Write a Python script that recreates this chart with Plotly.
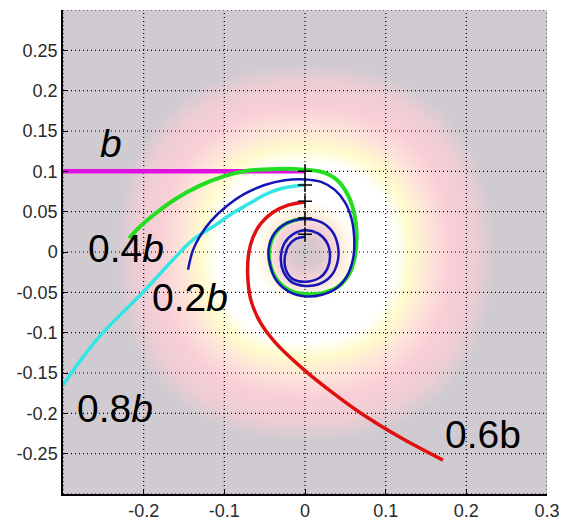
import numpy as np
import plotly.graph_objects as go

# ---------------- data ----------------
X_TICKS = [-0.3, -0.2, -0.1, 0.0, 0.1, 0.2, 0.3]
X_TICKTEXT = ["", "-0.2", "-0.1", "0", "0.1", "0.2", "0.3"]
Y_TICKS = [-0.3, -0.25, -0.2, -0.15, -0.1, -0.05, 0.0, 0.05, 0.1, 0.15, 0.2, 0.25, 0.3]
Y_TICKTEXT = ["", "-0.25", "-0.2", "-0.15", "-0.1", "-0.05", "0", "0.05", "0.1", "0.15", "0.2", "0.25", ""]

# trajectory "b" (magenta)
b_x = [-0.300, -0.150, -0.050, 0.000]
b_y = [0.100, 0.100, 0.100, 0.100]

# trajectory "0.8b" (cyan)
c08_x = [0.000, -0.028, -0.050, -0.069, -0.090, -0.110, -0.139, -0.164, -0.200, -0.228, -0.255, -0.278, -0.300]
c08_y = [0.083, 0.079, 0.071, 0.060, 0.048, 0.034, 0.015, -0.010, -0.049, -0.077, -0.105, -0.134, -0.165]

# trajectory "0.6b" (red)
c06_x = [0.000, -0.021, -0.040, -0.055, -0.065, -0.070, -0.071, -0.067, -0.055, -0.037, 0.000, 0.035, 0.068, 0.120, 0.171]
c06_y = [0.062, 0.058, 0.049, 0.035, 0.017, -0.003, -0.030, -0.060, -0.088, -0.112, -0.147, -0.175, -0.199, -0.231, -0.258]

# trajectory "0.4b" (green)
c04_x = [-0.218, -0.205, -0.185, -0.160, -0.131, -0.100, -0.070, -0.035, 0.000,
         0.022, 0.040, 0.053, 0.061, 0.064, 0.062, 0.055, 0.041, 0.021, 0.000,
         -0.020, -0.035, -0.043, -0.044, -0.037, -0.022, 0.000]
c04_y = [0.017, 0.031, 0.048, 0.066, 0.082, 0.094, 0.101, 0.103, 0.102,
         0.099, 0.089, 0.071, 0.048, 0.022, -0.005, -0.027, -0.043, -0.051, -0.052,
         -0.047, -0.034, -0.016, 0.004, 0.023, 0.036, 0.042]

# trajectory "0.2b" (blue)
c02_x = [-0.145, -0.139, -0.130, -0.117, -0.098, -0.075, -0.050, -0.025, 0.000,
         0.020, 0.037, 0.050, 0.058, 0.061, 0.060, 0.053, 0.040, 0.021, 0.000,
         -0.020, -0.035, -0.043, -0.045, -0.038, -0.022, 0.000,
         0.020, 0.034, 0.041, 0.040, 0.032, 0.017, 0.000, -0.017, -0.027, -0.030, -0.026, -0.015, 0.000,
         0.016, 0.027, 0.031, 0.028, 0.018, 0.000, -0.016, -0.024, -0.025, -0.021, -0.012, 0.000]
c02_y = [-0.022, 0.002, 0.020, 0.038, 0.056, 0.072, 0.083, 0.089, 0.090,
         0.087, 0.077, 0.061, 0.040, 0.017, -0.006, -0.028, -0.044, -0.053, -0.055,
         -0.049, -0.036, -0.017, 0.004, 0.023, 0.036, 0.041,
         0.037, 0.025, 0.006, -0.014, -0.030, -0.040, -0.042, -0.037, -0.024, -0.007, 0.010, 0.022, 0.027,
         0.023, 0.012, -0.004, -0.020, -0.032, -0.037, -0.033, -0.021, -0.006, 0.007, 0.016, 0.019]

# start points ("+")
start_x = [0.0, 0.0, 0.0, 0.0, 0.0]
start_y = [0.100, 0.083, 0.063, 0.042, 0.022]

# background: colour against distance from the centre
BG_R = [0.0, 0.018, 0.035, 0.05, 0.063, 0.110, 0.130, 0.155, 0.18, 0.21, 0.235, 0.3]
BG_C = ["#cdc8cd", "#dcc9cf", "#f6d3d8", "#fff5e4", "#ffffff", "#ffffff", "#fffbcc",
        "#fde3da", "#f9cfd7", "#edcdd4", "#cfcbd1", "#cfcbd1"]

# labels
LABELS = [("<i>b</i>", -0.240, 0.134), ("0.4<i>b</i>", -0.222, 0.004), ("0.2<i>b</i>", -0.143, -0.056),
          ("0.8<i>b</i>", -0.236, -0.194), ("0.6b", 0.221, -0.226)]

# ---------------- figure ----------------
fig = go.Figure()

g = np.linspace(-0.3, 0.3, 301)
GX, GY = np.meshgrid(g, g)
R = (np.abs(GX) ** 2.3 + np.abs(GY) ** 2.3) ** (1 / 2.3)
cs = [[r / BG_R[-1], c] for r, c in zip(BG_R, BG_C)]
fig.add_trace(go.Heatmap(x=g, y=g, z=R, zmin=0, zmax=BG_R[-1], colorscale=cs, showscale=False,
                         zsmooth="best", hoverinfo="skip"))

# dotted grid drawn over the background
gx, gy = [], []
for t in X_TICKS:
    gx += [t, t, None]
    gy += [-0.3, 0.3, None]
for t in Y_TICKS:
    gx += [-0.3, 0.3, None]
    gy += [t, t, None]
fig.add_trace(go.Scatter(x=gx, y=gy, mode="lines", line=dict(color="black", width=1.2, dash="1px,3px"),
                         hoverinfo="skip", showlegend=False))

def curve(x, y, color, width):
    fig.add_trace(go.Scatter(x=x, y=y, mode="lines",
                             line=dict(color=color, width=width, shape="spline", smoothing=1.0),
                             hoverinfo="skip", showlegend=False))

curve(b_x, b_y, "#e010e0", 4.5)
curve(c08_x, c08_y, "#33e6e6", 3.5)
curve(c06_x, c06_y, "#e01010", 3.5)
curve(c04_x, c04_y, "#22dd22", 4)
curve(c02_x, c02_y, "#1515b5", 2.5)

fig.add_trace(go.Scatter(x=start_x, y=start_y, mode="markers",
                         marker=dict(symbol="cross-thin", size=10, line=dict(color="black", width=1.5)),
                         hoverinfo="skip", showlegend=False))

for txt, x, y in LABELS:
    fig.add_annotation(x=x, y=y, text=txt, showarrow=False, xanchor="center", yanchor="middle",
                       font=dict(family="Arial", size=39, color="black"))

axis_common = dict(showgrid=False, zeroline=False, showline=True, linecolor="black", linewidth=1.5,
                   ticks="inside", ticklen=5, tickcolor="black", automargin=False,
                   tickfont=dict(family="Arial", size=18, color="#2a2a2a"),
                   mirror=False, layer="above traces")
fig.update_xaxes(range=[-0.3, 0.3], tickvals=X_TICKS, ticktext=X_TICKTEXT, **axis_common)
fig.update_yaxes(range=[-0.3, 0.3], tickvals=Y_TICKS, ticktext=Y_TICKTEXT, **axis_common)

fig.update_layout(width=561, height=522, margin=dict(l=63, r=14, t=10, b=28, autoexpand=False),
                  paper_bgcolor="white", plot_bgcolor="#cfcbd1", showlegend=False)

fig.write_html("out.html", config={"displayModeBar": False},
               post_script="document.body.style.margin='0px';document.body.style.overflow='hidden';")
